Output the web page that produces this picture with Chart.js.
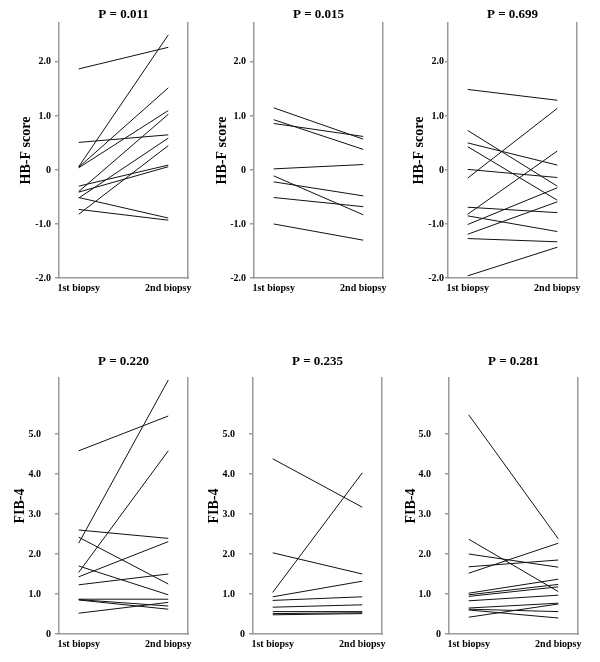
<!DOCTYPE html>
<html>
<head>
<meta charset="utf-8">
<script src="https://cdn.jsdelivr.net/npm/chart.js"></script>
<style>
  body { margin: 0; background: #fff; }
  #wrap { position: relative; width: 600px; height: 662px; }
  canvas { position: absolute; }
</style>
</head>
<body>
<div id="wrap"></div>
<script>
// categories / labels
const xLabels = ['1st biopsy', '2nd biopsy'];
const pTitles = ['P = 0.011', 'P = 0.015', 'P = 0.699', 'P = 0.220', 'P = 0.235', 'P = 0.281'];
const hbfTicks = [2, 1, 0, -1, -2];
const hbfTickLabels = ['2.0', '1.0', '0', '-1.0', '-2.0'];
const fibTicks = [5, 4, 3, 2, 1, 0];
const fibTickLabels = ['5.0    ', '4.0    ', '3.0    ', '2.0    ', '1.0    ', '0'];

// HB-F score, three groups (1st biopsy -> 2nd biopsy)
const hbfA_first  = [1.87, 0.06, 0.05, 0.04, 0.51, -0.40, -0.30, -0.41, -0.52, -0.82, -0.51, -0.73];
const hbfA_second = [2.27, 2.50, 1.52, 1.10, 0.65, 1.03, 0.09, 0.06, 0.59, 0.45, -0.89, -0.93];

const hbfB_first  = [1.15, 0.93, 0.86, 0.02, -0.11, -0.22, -0.51, -1.00];
const hbfB_second = [0.57, 0.38, 0.62, 0.10, -0.83, -0.48, -0.68, -1.30];

const hbfC_first  = [1.49, 0.73, 0.50, 0.43, 0.01, -0.15, -0.69, -0.82, -0.85, -1.01, -1.19, -1.27, -1.96];
const hbfC_second = [1.29, -0.30, 0.09, -0.56, -0.14, 1.14, -0.79, 0.35, -1.14, -0.33, -0.59, -1.33, -1.43];

// FIB-4, three groups
const fibA_first  = [4.58, 2.27, 1.54, 2.60, 2.42, 1.70, 1.43, 1.23, 0.87, 0.86, 0.85, 0.52];
const fibA_second = [5.45, 6.35, 4.58, 2.39, 1.25, 0.98, 2.31, 1.50, 0.87, 0.70, 0.62, 0.79];

const fibB_first  = [4.38, 1.04, 2.03, 0.93, 0.84, 0.67, 0.56, 0.51, 0.48];
const fibB_second = [3.17, 4.03, 1.50, 1.32, 0.93, 0.73, 0.56, 0.53, 0.51];

const fibC_first  = [5.48, 2.37, 2.00, 1.68, 1.52, 1.02, 0.98, 0.94, 0.83, 0.65, 0.62, 0.60, 0.42];
const fibC_second = [2.38, 1.06, 1.67, 1.85, 2.27, 1.37, 1.24, 1.18, 0.97, 0.77, 0.56, 0.40, 0.75];

const panels = [
  {first: hbfA_first, second: hbfA_second, yTitle: 'HB-F score', min: -2, max: 2.72, ticks: hbfTicks, tickLabels: hbfTickLabels},
  {first: hbfB_first, second: hbfB_second, yTitle: 'HB-F score', min: -2, max: 2.72, ticks: hbfTicks, tickLabels: hbfTickLabels},
  {first: hbfC_first, second: hbfC_second, yTitle: 'HB-F score', min: -2, max: 2.72, ticks: hbfTicks, tickLabels: hbfTickLabels},
  {first: fibA_first, second: fibA_second, yTitle: 'FIB-4', min: 0, max: 6.4, ticks: fibTicks, tickLabels: fibTickLabels},
  {first: fibB_first, second: fibB_second, yTitle: 'FIB-4', min: 0, max: 6.4, ticks: fibTicks, tickLabels: fibTickLabels},
  {first: fibC_first, second: fibC_second, yTitle: 'FIB-4', min: 0, max: 6.4, ticks: fibTicks, tickLabels: fibTickLabels}
];

// where each small chart sits on the page
const boxes = [
  {left: 9,   top: 0,   height: 298, tTop: 6.7,  tBottom: 0.7, yPad: 8.6, tickPad: 4, tickLen: 4},
  {left: 204, top: 0,   height: 298, tTop: 6.7,  tBottom: 0.7, yPad: 10,  tickPad: 4, tickLen: 4},
  {left: 398, top: 0,   height: 298, tTop: 6.7,  tBottom: 0.7, yPad: 13,  tickPad: 1, tickLen: 3},
  {left: 9,   top: 340, height: 314, tTop: 14.2, tBottom: 8.2, yPad: 3.3, tickPad: 4, tickLen: 4},
  {left: 203, top: 340, height: 314, tTop: 14.2, tBottom: 8.2, yPad: 2.6, tickPad: 4, tickLen: 4},
  {left: 399, top: 340, height: 314, tTop: 14.2, tBottom: 8.2, yPad: 4.3, tickPad: 4, tickLen: 4}
];

const serif = "'Liberation Serif', 'Times New Roman', serif";
const axisColor = '#9a9a9a';

panels.forEach((p, i) => {
  const b = boxes[i];
  const canvas = document.createElement('canvas');
  canvas.width = 190;
  canvas.height = b.height;
  canvas.style.left = b.left + 'px';
  canvas.style.top = b.top + 'px';
  document.getElementById('wrap').appendChild(canvas);

  const datasets = p.first.map((v, k) => ({
    data: [{x: 0, y: v}, {x: 1, y: p.second[k]}],
    borderColor: '#111',
    borderWidth: 1,
    pointRadius: 0,
    fill: false
  }));

  new Chart(canvas.getContext('2d'), {
    type: 'line',
    data: { datasets },
    options: {
      responsive: false,
      animation: false,
      layout: { padding: { left: 0, right: 11, top: 0, bottom: 0 } },
      plugins: {
        legend: { display: false },
        tooltip: { enabled: false },
        title: {
          display: true,
          text: pTitles[i],
          fullSize: false,
          color: '#000',
          font: { family: serif, size: 13, weight: 'bold' },
          padding: { top: b.tTop, bottom: b.tBottom }
        }
      },
      scales: {
        x: {
          type: 'linear',
          min: -0.22,
          max: 1.22,
          afterBuildTicks: s => { s.ticks = [{value: 0}, {value: 1}]; },
          afterFit: s => { s.height = 20; s.paddingLeft = 0; s.paddingRight = 0; },
          ticks: {
            callback: v => xLabels[v],
            color: '#000',
            font: { family: serif, size: 10, weight: 'bold' },
            padding: 4,
            maxRotation: 0
          },
          grid: { display: false, drawTicks: false },
          border: { display: true, color: axisColor, width: 1.5 }
        },
        y: {
          min: p.min,
          max: p.max,
          afterBuildTicks: s => { s.ticks = p.ticks.map(v => ({value: v})); },
          afterFit: s => { s.width = 50; s.paddingTop = 0; s.paddingBottom = 0; },
          ticks: {
            callback: v => p.tickLabels[p.ticks.indexOf(v)],
            color: '#000',
            font: { family: serif, size: 10, weight: 'bold' },
            padding: b.tickPad
          },
          grid: { drawOnChartArea: false, drawTicks: true, tickLength: b.tickLen, color: axisColor, lineWidth: 1.5 },
          border: { display: true, color: axisColor, width: 1.5 },
          title: {
            display: true,
            text: p.yTitle,
            color: '#000',
            font: { family: serif, size: 14, weight: 'bold' },
            padding: { top: b.yPad, bottom: 0 }
          }
        },
        y2: {
          position: 'right',
          afterFit: s => { s.width = 0; },
          ticks: { display: false },
          grid: { display: false },
          border: { display: true, color: axisColor, width: 1.5 }
        }
      }
    }
  });
});
</script>
</body>
</html>
